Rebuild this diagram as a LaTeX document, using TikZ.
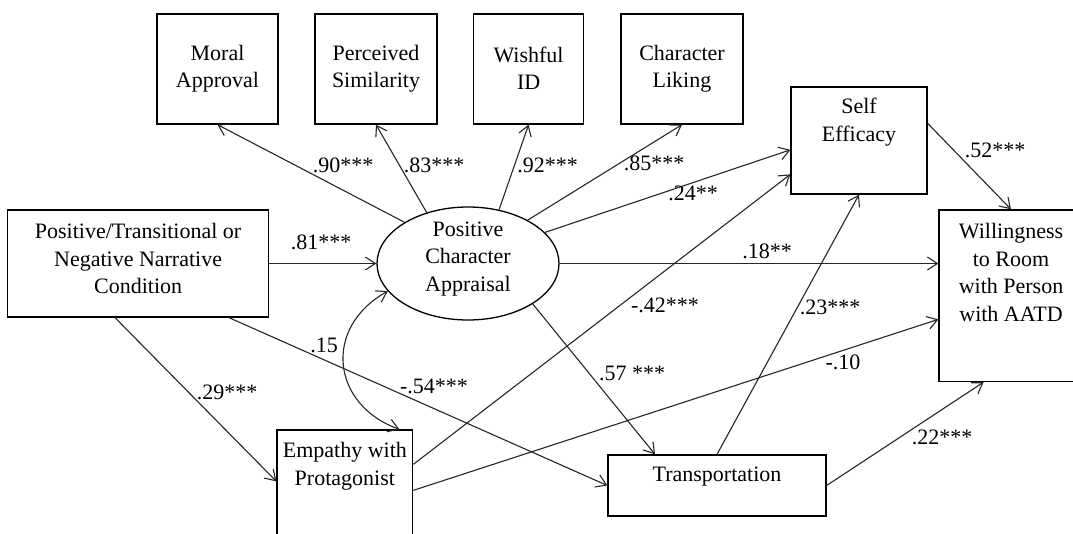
\documentclass[tikz,border=0pt]{standalone}
\usepackage{fontspec}
\setmainfont{Liberation Serif}
\usetikzlibrary{shapes.geometric,arrows.meta}
\begin{document}
\begin{tikzpicture}[x=1pt,y=-1pt,
  box/.style={draw=black, line width=1.3pt, rectangle, inner sep=0pt},
  oval/.style={draw=black, line width=1.3pt, ellipse, inner sep=0pt,
               minimum width=182pt, minimum height=113pt},
  txt/.style={align=center, inner sep=0pt, font=\fontsize{22}{27.5}\selectfont},
  coef/.style={inner sep=0pt, font=\fontsize{22}{26}\selectfont},
  link/.style={draw=black!85, line width=1.1pt,
               -{Straight Barb[length=10pt,width=13pt]}},
  twoway/.style={draw=black!85, line width=1.1pt,
               {Straight Barb[length=10pt,width=13pt]}-{Straight Barb[length=10pt,width=13pt]}}
]
\clip (0,0) rectangle (1073,533);
\fill[white] (0,0) rectangle (1073,533);

% indicator boxes
\node[box, minimum width=121pt, minimum height=110pt] (moral) at (217.5,69) {};
\node[box, minimum width=122pt, minimum height=110pt] (simil) at (376,69) {};
\node[box, minimum width=110pt, minimum height=110pt] (wish) at (528.6,69) {};
\node[box, minimum width=122pt, minimum height=110pt] (liking) at (682,69) {};
\node[txt] (moral-t) at (217.5,68.5) {Moral\\Approval};
\node[txt] (simil-t) at (376,68.5) {Perceived\\Similarity};
\node[txt] (wish-t) at (528.6,68.5) {Wishful\\ID};
\node[txt] (liking-t) at (682,68.5) {Character\\Liking};

% main constructs
\node[box, minimum width=261pt, minimum height=107pt] (cond) at (138.1,263.5) {};
\node[txt] (cond-t) at (138.1,258.5) {Positive/Transitional or\\Negative Narrative\\Condition};
\node[oval] (pca) at (468,263.5) {};
\node[txt] (pca-t) at (468,259) {Positive\\Character\\Appraisal};
\node[box, minimum width=136pt, minimum height=107pt] (self) at (859,140.5) {};
\node[txt] (self-t) at (859,122) {Self\\Efficacy};
\node[box, minimum width=144pt, minimum height=171.5pt] (will) at (1011,295.75) {};
\node[txt] (will-t) at (1011,272.5) {Willingness\\to Room\\with Person\\with AATD};
\node[box, minimum width=135.7pt, minimum height=160pt] (emp) at (344.85,510) {};
\node[txt] (emp-t) at (344.85,466) {Empathy with\\Protagonist};
\node[box, minimum width=218pt, minimum height=61pt] (trans) at (717,485.5) {};
\node[txt] (trans-t) at (717,477) {Transportation};

% paths to the indicators
\draw[link] (pca.147) -- (moral.south);
\draw[link] (pca.129) -- (simil.south);
\draw[link] (pca.60) -- (wish.south);
\draw[link] (pca.36) -- (liking.south);

% structural paths
\draw[link] (cond.east) -- (pca.west);
\draw[link] (pca.22) -- ([yshift=-63.5pt]self.north west);
\draw[link] (pca.east) -- (pca.east -| will.west);
\draw[link] (pca.-32) -- ([xshift=-62pt]trans.north);
\draw[link] ([xshift=-23.1pt]cond.south) -- ([yshift=-52pt]emp.north west);
\draw[link] ([xshift=90.9pt]cond.south) -- (trans.west);
\draw[link] ([yshift=-35pt]emp.north east) -- ([yshift=-88pt]self.north west);
\draw[link] ([yshift=-61pt]emp.north east) -- ([yshift=-110pt]will.north west);
\draw[link] (trans.north) -- (self.south);
\draw[link] (trans.east) -- ([xshift=-27.4pt]will.south);
\draw[link] ([yshift=-37pt]self.north east) -- (will.north);

% covariance between appraisal and empathy
\draw[twoway] (pca.199) .. controls (322,328) and (332,405) .. ([xshift=54.6pt]emp.north);

% coefficients
\node[coef] (c90) at (343,165) {.90***};
\node[coef] (c83) at (434,165) {.83***};
\node[coef] (c92) at (547.5,165) {.92***};
\node[coef] (c85) at (654,163) {.85***};
\node[coef] (c24) at (693,193) {.24**};
\node[coef] (c81) at (321,242) {.81***};
\node[coef] (c18) at (767,251) {.18**};
\node[coef] (c52) at (995,150) {.52***};
\node[coef] (c15) at (324,345) {.15};
\node[coef] (c29) at (227,392) {.29***};
\node[coef] (c54) at (434,386) {-.54***};
\node[coef] (c42) at (665,305) {-.42***};
\node[coef] (c23) at (830,307) {.23***};
\node[coef] (c57) at (632,373) {.57 ***};
\node[coef] (c10) at (843,362) {-.10};
\node[coef] (c22) at (942,437) {.22***};
\end{tikzpicture}
\end{document}
